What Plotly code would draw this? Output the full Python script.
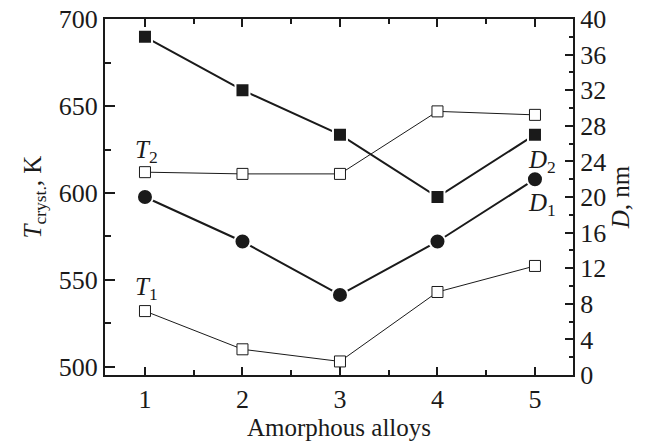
import plotly.graph_objects as go

alloys = [1, 2, 3, 4, 5]
T1 = [532, 510, 503, 543, 558]
T2 = [612, 611, 611, 647, 645]
D1 = [20, 15, 9, 15, 22]
D2 = [38, 32, 27, 20, 27]

FONT = "Liberation Serif"
INK = "#1a1a1a"

fig = go.Figure()

# crystallization temperatures (left axis)
for ys in (T2, T1):
    fig.add_trace(go.Scatter(
        x=alloys, y=ys, mode="lines+markers", yaxis="y",
        line=dict(color=INK, width=1),
        marker=dict(symbol="square", size=11, color="white",
                    line=dict(color=INK, width=1)),
        showlegend=False, cliponaxis=False))

# grain sizes (right axis)
fig.add_trace(go.Scatter(
    x=alloys, y=D2, mode="lines+markers", yaxis="y2",
    line=dict(color=INK, width=2),
    marker=dict(symbol="square", size=14, color=INK,
                line=dict(color="white", width=2)),
    showlegend=False, cliponaxis=False))
fig.add_trace(go.Scatter(
    x=alloys, y=D1, mode="lines+markers", yaxis="y2",
    line=dict(color=INK, width=2),
    marker=dict(symbol="circle", size=16, color=INK,
                line=dict(color="white", width=2)),
    showlegend=False, cliponaxis=False))

ann_font = dict(family=FONT, size=25, color=INK)
fig.add_annotation(x=1.02, y=624, xref="x", yref="y", text="<i>T</i><sub>2</sub>",
                   showarrow=False, font=ann_font)
fig.add_annotation(x=1.02, y=545, xref="x", yref="y", text="<i>T</i><sub>1</sub>",
                   showarrow=False, font=ann_font)
fig.add_annotation(x=5.07, y=24.0, xref="x", yref="y2", text="<i>D</i><sub>2</sub>",
                   showarrow=False, font=ann_font)
fig.add_annotation(x=5.07, y=19.2, xref="x", yref="y2", text="<i>D</i><sub>1</sub>",
                   showarrow=False, font=ann_font)

tick_font = dict(family=FONT, size=26, color=INK)
title_font = dict(family=FONT, size=25, color=INK)
axis_common = dict(showgrid=False, zeroline=False, showline=True, automargin=False,
                   linecolor=INK, linewidth=2, ticks="inside",
                   tickcolor=INK, tickwidth=1.5, tickfont=tick_font)

fig.update_layout(
    width=655, height=441,
    margin=dict(l=105, r=82, t=19, b=66),
    paper_bgcolor="white", plot_bgcolor="white",
    font=dict(family=FONT, size=24, color=INK),
    xaxis=dict(range=[0.59, 5.39], tickmode="array", tickvals=alloys,
               ticktext=[str(a) for a in alloys], ticklen=8, mirror="ticks",
               minor=dict(dtick=0.5, tick0=0, ticklen=5, ticks="inside",
                          tickcolor=INK, tickwidth=1.5),
               title=dict(text="Amorphous alloys", standoff=4, font=title_font),
               **axis_common),
    yaxis=dict(range=[495.2, 700.2], dtick=50, tick0=500, ticklen=10,
               minor=dict(dtick=25, tick0=500, ticklen=6, ticks="inside",
                          tickcolor=INK, tickwidth=1.5),
               title=dict(text="<i>T</i><sub>cryst.</sub>, K", standoff=10,
                          font=title_font),
               **axis_common),
    yaxis2=dict(range=[0, 40], dtick=4, tick0=0, ticklen=8, overlaying="y",
                side="right",
                minor=dict(dtick=2, tick0=0, ticklen=4, ticks="inside",
                           tickcolor=INK, tickwidth=1.5),
                title=dict(text="<i>D</i>, nm", standoff=6, font=title_font),
                **axis_common),
)

fig.write_html(
    "out.html",
    config={"displayModeBar": False},
    post_script="document.body.style.margin='0px';document.body.style.overflow='hidden';",
)
